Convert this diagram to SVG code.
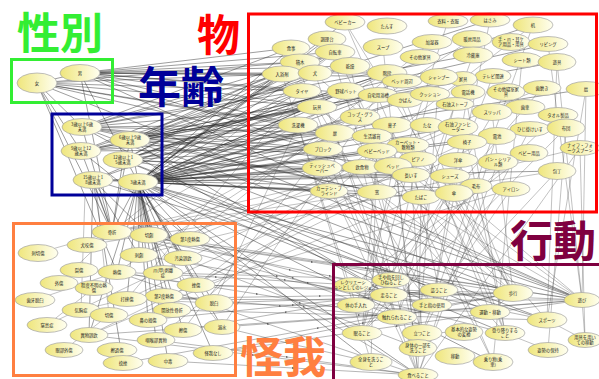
<svg xmlns="http://www.w3.org/2000/svg" width="599" height="379" viewBox="0 0 599 379">
<defs>
<linearGradient id="yg" x1="0" y1="0" x2="1" y2="0">
<stop offset="0" stop-color="#efe67c"/>
<stop offset="1" stop-color="#fffff0"/>
</linearGradient>
<marker id="ar" viewBox="0 0 6 6" refX="3" refY="3" markerWidth="4" markerHeight="4" orient="auto">
<path d="M0 0L6 3L0 6z" fill="#666"/>
</marker>
<style>
.n ellipse{fill:url(#yg);stroke:#a4a4a4;stroke-width:.7}
.n text{font-family:"Noto Sans CJK JP","Noto Sans",sans-serif;font-size:4.3px;fill:#222;text-anchor:middle}
#connectors path{fill:none}
.e path{stroke:#2a2a2a;stroke-width:.65;stroke-opacity:.7}
.f path{stroke:#555;stroke-width:.6;stroke-opacity:.6}
.m path{stroke:#444;stroke-width:.6;stroke-opacity:.65;marker-mid:url(#ar)}
.big{font-family:"Noto Sans CJK JP","Noto Sans CJK SC",sans-serif;font-weight:700;font-size:43px}
.box{fill:none;stroke-width:3}
</style>
</defs>
<rect width="599" height="379" fill="#fff"/>
<g id="connectors">
<g class="e">
<path d="M80 73L282 74"/><path d="M80 73L302 91"/><path d="M80 73L298 125"/><path d="M80 73L439 77"/><path d="M80 73L378 95"/><path d="M80 73L387 73"/><path d="M80 73L317 107"/><path d="M80 73L300 62"/><path d="M80 73L112 232"/><path d="M80 73L138 182"/><path d="M80 73L582 300"/><path d="M80 73L323 149"/><path d="M80 73L335 52"/><path d="M80 73L291 48"/><path d="M80 73L350 66"/>
<path d="M37 83L82 127"/><path d="M37 83L81 151"/><path d="M37 83L282 74"/><path d="M37 83L302 91"/><path d="M37 83L298 125"/><path d="M37 83L323 149"/><path d="M37 83L112 232"/><path d="M37 83L117 272"/><path d="M37 83L335 133"/><path d="M37 83L582 300"/><path d="M37 83L80 73"/><path d="M37 83L300 62"/><path d="M37 83L317 107"/>
<path d="M138 182L345 22"/><path d="M138 182L327 39"/><path d="M138 182L291 48"/><path d="M138 182L335 52"/><path d="M138 182L300 62"/><path d="M138 182L282 74"/><path d="M138 182L302 91"/><path d="M138 182L317 107"/><path d="M138 182L298 125"/><path d="M138 182L335 133"/><path d="M138 182L323 149"/><path d="M138 182L322 168"/><path d="M138 182L362 167"/><path d="M138 182L377 151"/><path d="M138 182L393 166"/><path d="M138 182L329 191"/><path d="M138 182L377 192"/><path d="M138 182L421 197"/><path d="M138 182L467 142"/><path d="M138 182L497 136"/><path d="M138 182L455 104"/><path d="M138 182L117 272"/><path d="M138 182L112 232"/><path d="M138 182L149 235"/><path d="M138 182L89 335"/><path d="M138 182L190 239"/><path d="M138 182L127 299"/><path d="M138 182L513 293"/><path d="M138 182L582 300"/><path d="M138 182L439 290"/><path d="M138 182L505 333"/><path d="M138 182L493 362"/><path d="M138 182L418 375"/><path d="M138 182L371 362"/><path d="M138 182L183 258"/><path d="M138 182L196 285"/>
<path d="M138 182L139 255"/><path d="M138 182L164 296"/><path d="M138 182L183 330"/><path d="M138 182L222 327"/><path d="M138 182L168 361"/><path d="M138 182L156 340"/><path d="M138 182L214 303"/><path d="M138 182L172 310"/><path d="M138 182L148 320"/><path d="M138 182L213 353"/><path d="M138 182L163 273"/>
<path d="M138 182L360 117"/><path d="M138 182L392 125"/><path d="M138 182L372 136"/><path d="M138 182L408 145"/><path d="M138 182L418 159"/><path d="M138 182L411 175"/><path d="M138 182L450 176"/><path d="M138 182L458 127"/><path d="M138 182L430 94"/><path d="M138 182L402 81"/><path d="M138 182L387 73"/><path d="M138 182L378 95"/><path d="M138 182L346 91"/><path d="M138 182L405 100"/>
<path d="M123 160L335 52"/><path d="M123 160L346 91"/><path d="M123 160L387 73"/><path d="M123 160L533 25"/><path d="M123 160L547 320"/><path d="M123 160L112 232"/><path d="M123 160L323 149"/><path d="M123 160L450 176"/><path d="M123 160L490 312"/><path d="M123 160L586 89"/><path d="M123 160L282 74"/><path d="M123 160L317 107"/><path d="M123 160L335 133"/><path d="M123 160L322 168"/><path d="M123 160L329 191"/>
<path d="M130 140L335 52"/><path d="M130 140L557 62"/><path d="M130 140L323 149"/><path d="M130 140L335 133"/><path d="M130 140L377 192"/><path d="M130 140L112 232"/><path d="M130 140L149 235"/><path d="M130 140L582 300"/><path d="M130 140L389 295"/><path d="M130 140L548 44"/><path d="M130 140L350 66"/><path d="M130 140L315 73"/><path d="M130 140L300 62"/><path d="M130 140L302 91"/><path d="M130 140L317 107"/><path d="M130 140L298 125"/><path d="M130 140L378 95"/>
<path d="M82 127L282 74"/><path d="M82 127L317 107"/><path d="M82 127L291 48"/><path d="M82 127L393 166"/><path d="M82 127L335 133"/><path d="M82 127L513 293"/><path d="M82 127L389 295"/><path d="M82 127L112 232"/><path d="M82 127L473 55"/><path d="M82 127L335 52"/><path d="M82 127L302 91"/><path d="M82 127L298 125"/><path d="M82 127L323 149"/><path d="M82 127L322 168"/><path d="M82 127L377 192"/>
<path d="M81 151L335 52"/><path d="M81 151L346 91"/><path d="M81 151L490 20"/><path d="M81 151L112 232"/><path d="M81 151L190 239"/><path d="M81 151L493 76"/><path d="M81 151L335 133"/><path d="M81 151L323 149"/><path d="M81 151L317 107"/><path d="M81 151L298 125"/>
<path d="M93 180L112 232"/><path d="M93 180L149 235"/><path d="M93 180L89 335"/><path d="M93 180L557 171"/><path d="M93 180L511 189"/><path d="M93 180L547 320"/><path d="M93 180L123 363"/><path d="M93 180L139 255"/><path d="M93 180L346 91"/><path d="M93 180L302 91"/><path d="M93 180L329 191"/>
</g>
<g class="f">
<path d="M377 192L112 232"/><path d="M387 73L112 232"/><path d="M302 91L127 299"/><path d="M557 171L149 235"/><path d="M421 197L89 335"/><path d="M362 167L156 340"/><path d="M458 127L190 239"/><path d="M511 189L164 296"/><path d="M533 25L196 285"/><path d="M335 133L149 235"/><path d="M378 95L222 327"/><path d="M329 191L47 325"/><path d="M393 166L112 232"/><path d="M467 142L127 299"/><path d="M580 148L139 255"/><path d="M497 136L89 335"/><path d="M542 88L139 255"/><path d="M335 52L112 232"/><path d="M472 39L117 272"/><path d="M432 42L190 239"/><path d="M418 159L196 285"/><path d="M411 175L112 232"/><path d="M323 149L183 330"/><path d="M298 125L214 303"/>
<path d="M345 22L493 362"/><path d="M335 52L493 362"/><path d="M387 73L505 333"/><path d="M467 142L505 333"/><path d="M393 166L362 333"/><path d="M377 151L362 333"/><path d="M411 175L422 333"/><path d="M317 107L582 300"/><path d="M300 62L582 300"/><path d="M323 149L582 300"/><path d="M557 62L582 300"/><path d="M346 91L547 320"/><path d="M450 176L513 293"/><path d="M492 112L513 293"/><path d="M557 171L432 305"/><path d="M490 20L432 305"/><path d="M580 148L418 375"/><path d="M362 167L418 375"/><path d="M392 125L418 375"/><path d="M498 162L418 375"/><path d="M378 95L371 362"/><path d="M282 74L371 362"/><path d="M439 77L418 348"/><path d="M542 88L356 305"/><path d="M335 133L391 280"/><path d="M586 89L582 300"/><path d="M558 115L356 305"/><path d="M530 129L422 333"/><path d="M566 128L362 333"/><path d="M476 186L362 333"/><path d="M454 193L513 293"/><path d="M458 160L513 293"/><path d="M493 76L397 317"/><path d="M430 94L362 333"/><path d="M473 55L391 280"/><path d="M448 21L356 305"/><path d="M533 25L422 333"/><path d="M548 44L582 300"/><path d="M522 60L493 362"/><path d="M377 192L505 333"/><path d="M427 125L505 333"/><path d="M329 191L391 280"/><path d="M322 168L432 305"/><path d="M497 136L418 375"/><path d="M421 197L418 375"/><path d="M511 189L432 305"/><path d="M455 104L397 317"/><path d="M529 153L353 285"/><path d="M463 79L505 333"/><path d="M506 92L362 333"/><path d="M350 66L418 348"/><path d="M315 73L397 317"/><path d="M405 100L490 312"/><path d="M468 92L432 305"/><path d="M383 47L418 375"/><path d="M291 48L418 375"/><path d="M327 39L422 333"/>
<path d="M323 149L397 317"/><path d="M317 107L432 305"/><path d="M322 168L418 375"/><path d="M377 192L513 293"/><path d="M329 191L582 300"/><path d="M302 91L513 293"/><path d="M298 125L356 305"/><path d="M345 22L513 293"/><path d="M408 145L439 290"/><path d="M418 159L391 280"/><path d="M557 62L547 320"/><path d="M586 89L547 320"/><path d="M566 128L548 350"/><path d="M580 148L585 340"/>
<path d="M513 293L490 312"/><path d="M582 300L585 340"/><path d="M547 320L585 340"/><path d="M464 332L422 333"/><path d="M455 356L493 362"/><path d="M389 295L439 290"/><path d="M353 285L391 280"/><path d="M356 305L432 305"/><path d="M548 350L505 333"/>
<path d="M38 253L112 232"/><path d="M59 283L112 232"/><path d="M35 300L117 272"/><path d="M47 325L94 288"/><path d="M64 350L109 315"/><path d="M87 245L149 235"/><path d="M81 310L127 299"/><path d="M85 195L81 310"/><path d="M97 195L109 315"/><path d="M112 232L190 239"/><path d="M117 272L196 285"/><path d="M127 299L214 303"/><path d="M149 235L222 327"/>
</g>
<g class="m">
<path d="M112 232L308 283L505 333"/><path d="M149 235L290 270L432 305"/><path d="M222 327L296 345L371 362"/><path d="M190 239L293 278L397 317"/><path d="M89 335L253 355L418 375"/><path d="M127 299L320 296L513 293"/><path d="M196 285L389 292L582 300"/><path d="M214 303L352 307L490 312"/><path d="M183 330L286 312L389 295"/><path d="M213 353L397 326L582 300"/><path d="M117 272L257 294L397 317"/><path d="M139 255L285 280L432 305"/><path d="M148 320L293 305L439 290"/><path d="M168 361L293 368L418 375"/><path d="M156 340L287 357L418 375"/><path d="M172 310L359 315L547 320"/><path d="M164 296L280 306L397 317"/><path d="M123 363L318 328L513 293"/><path d="M163 273L277 276L391 280"/><path d="M79 270L216 277L353 285"/><path d="M183 258L300 303L418 348"/>
<path d="M112 232L312 262L513 293"/><path d="M112 232L347 266L582 300"/><path d="M112 232L330 276L547 320"/><path d="M149 235L366 268L582 300"/><path d="M117 272L268 324L418 375"/><path d="M127 299L355 300L582 300"/><path d="M190 239L304 307L418 375"/><path d="M222 327L402 314L582 300"/><path d="M214 303L364 298L513 293"/><path d="M196 285L355 289L513 293"/><path d="M89 335L336 318L582 300"/><path d="M213 353L363 323L513 293"/>
</g>
</g>
<g id="nodes" class="n">
<g id="sex-female"><ellipse cx="37" cy="83" rx="20" ry="10"/><text x="37" y="84.5">女</text></g>
<g id="sex-male"><ellipse cx="80" cy="73" rx="20" ry="8.5"/><text x="80" y="74.5">男</text></g>
<g id="age-3-6"><ellipse cx="82" cy="127" rx="20" ry="8.5"/><text x="82" y="126.2">3歳以上6歳<tspan x="82" dy="5">未満</tspan></text></g>
<g id="age-6-9"><ellipse cx="130" cy="140" rx="20" ry="8.5"/><text x="130" y="139.2">6歳以上9歳<tspan x="130" dy="5">未満</tspan></text></g>
<g id="age-9-12"><ellipse cx="81" cy="151" rx="20" ry="8.5"/><text x="81" y="150.2">9歳以上12<tspan x="81" dy="5">歳未満</tspan></text></g>
<g id="age-12-15"><ellipse cx="123" cy="160" rx="20" ry="8.5"/><text x="123" y="159.2">12歳以上1<tspan x="123" dy="5">5歳未満</tspan></text></g>
<g id="age-15-18"><ellipse cx="93" cy="180" rx="20" ry="8.5"/><text x="93" y="179.2">15歳以上1<tspan x="93" dy="5">8歳未満</tspan></text></g>
<g id="age-0-3"><ellipse cx="138" cy="182" rx="20" ry="8.5"/><text x="138" y="183.5">3歳未満</text></g>

<g id="o-babycar"><ellipse cx="345" cy="22" rx="20" ry="8"/><text x="345" y="23.5">ベビーカー</text></g>
<g id="o-tansu"><ellipse cx="387" cy="26" rx="20" ry="8"/><text x="387" y="27.5">たんす</text></g>
<g id="o-chouridai"><ellipse cx="327" cy="39" rx="19" ry="8"/><text x="327" y="40.5">調理台</text></g>
<g id="o-shokuji"><ellipse cx="291" cy="48" rx="19" ry="8"/><text x="291" y="49.5">食事</text></g>
<g id="o-soup"><ellipse cx="383" cy="47" rx="20" ry="8.5"/><text x="383" y="48.5">スープ</text></g>
<g id="o-jitensha"><ellipse cx="335" cy="52" rx="20" ry="8"/><text x="335" y="53.5">自転車</text></g>
<g id="o-tsumiki"><ellipse cx="300" cy="62" rx="20" ry="8"/><text x="300" y="63.5">積木</text></g>
<g id="o-kanso"><ellipse cx="350" cy="66" rx="20" ry="8.5"/><text x="350" y="67.5">乾燥</text></g>
<g id="o-nyuyokuzai"><ellipse cx="282" cy="74" rx="20" ry="8"/><text x="282" y="75.5">入浴剤</text></g>
<g id="o-inu"><ellipse cx="315" cy="73" rx="17" ry="8"/><text x="315" y="74.5">犬</text></g>
<g id="o-kaidan"><ellipse cx="387" cy="73" rx="20" ry="8.5"/><text x="387" y="74.5">階段</text></g>
<g id="o-bedshuhen"><ellipse cx="402" cy="81" rx="20" ry="7"/><text x="402" y="82.5">ベッド周辺</text></g>
<g id="o-taiya"><ellipse cx="302" cy="91" rx="19" ry="7.5"/><text x="302" y="92.5">タイヤ</text></g>
<g id="o-bat"><ellipse cx="346" cy="91" rx="19" ry="8.5"/><text x="346" y="92.5">野球バット</text></g>
<g id="o-yokuso"><ellipse cx="378" cy="95" rx="20" ry="7.5"/><text x="378" y="96.5">自宅用浴槽</text></g>
<g id="o-kaban"><ellipse cx="405" cy="100" rx="18" ry="7.5"/><text x="405" y="101.5">かばん</text></g>
<g id="o-gangu"><ellipse cx="317" cy="107" rx="20" ry="7.5"/><text x="317" y="108.5">玩具</text></g>
<g id="o-cup"><ellipse cx="360" cy="117" rx="20" ry="8.5"/><text x="360" y="116.2">コップ・グラ<tspan x="360" dy="5">ス</tspan></text></g>
<g id="o-sentakuki"><ellipse cx="298" cy="125" rx="20" ry="8"/><text x="298" y="126.5">洗濯機</text></g>
<g id="o-kashi"><ellipse cx="392" cy="125" rx="20" ry="8"/><text x="392" y="126.5">菓子</text></g>
<g id="o-tana"><ellipse cx="427" cy="125" rx="17" ry="7.5"/><text x="427" y="126.5">たな</text></g>
<g id="o-tobira"><ellipse cx="335" cy="133" rx="20" ry="8.5"/><text x="335" y="134.5">扉</text></g>
<g id="o-zakka"><ellipse cx="372" cy="136" rx="20" ry="7.5"/><text x="372" y="137.5">生活雑貨</text></g>
<g id="o-carpet"><ellipse cx="408" cy="145" rx="21" ry="8"/><text x="408" y="144.2">カーペット・<tspan x="408" dy="5">敷物類</tspan></text></g>
<g id="o-block"><ellipse cx="323" cy="149" rx="20" ry="7.5"/><text x="323" y="150.5">ブロック</text></g>
<g id="o-babybed"><ellipse cx="377" cy="151" rx="20" ry="8"/><text x="377" y="152.5">ベビーベッド</text></g>
<g id="o-piano"><ellipse cx="418" cy="159" rx="19" ry="7.5"/><text x="418" y="160.5">ピアノ</text></g>
<g id="o-inshoku"><ellipse cx="362" cy="167" rx="20" ry="7.5"/><text x="362" y="168.5">飲食物</text></g>
<g id="o-bed"><ellipse cx="393" cy="166" rx="19" ry="8.5"/><text x="393" y="167.5">ベッド</text></g>
<g id="o-tissue"><ellipse cx="322" cy="168" rx="20" ry="8.5"/><text x="322" y="167.2">ティッシュペ<tspan x="322" dy="5">ーパー</tspan></text></g>
<g id="o-nagaisu"><ellipse cx="411" cy="175" rx="19" ry="7.5"/><text x="411" y="176.5">長いす</text></g>
<g id="o-curtain"><ellipse cx="329" cy="191" rx="19" ry="7.5"/><text x="329" y="190.2">カーテン・ブ<tspan x="329" dy="5">ラインド</tspan></text></g>
<g id="o-mado"><ellipse cx="377" cy="192" rx="20" ry="7.5"/><text x="377" y="193.5">窓</text></g>
<g id="o-tabako"><ellipse cx="421" cy="197" rx="19" ry="7.5"/><text x="421" y="198.5">たばこ</text></g>
<g id="o-iryo"><ellipse cx="448" cy="21" rx="20" ry="7"/><text x="448" y="22.5">衣料・衣服</text></g>
<g id="o-hasami"><ellipse cx="490" cy="20" rx="20" ry="7"/><text x="490" y="21.5">はさみ</text></g>
<g id="o-tsukue"><ellipse cx="533" cy="25" rx="20" ry="8"/><text x="533" y="26.5">机</text></g>
<g id="o-kashitsuki"><ellipse cx="432" cy="42" rx="20" ry="7.5"/><text x="432" y="43.5">加湿器</text></g>
<g id="o-danbo"><ellipse cx="472" cy="39" rx="20" ry="8.5"/><text x="472" y="40.5">暖房用品</text></g>
<g id="o-nail"><ellipse cx="511" cy="42" rx="19" ry="8.5"/><text x="511" y="41.2">手・爪・耳ケ<tspan x="511" dy="5">ア用品・用具</tspan></text></g>
<g id="o-living"><ellipse cx="548" cy="44" rx="20" ry="7.5"/><text x="548" y="45.5">リビング</text></g>
<g id="o-kagu"><ellipse cx="420" cy="57" rx="20" ry="7.5"/><text x="420" y="58.5">その他家具</text></g>
<g id="o-reizoko"><ellipse cx="473" cy="55" rx="20" ry="8"/><text x="473" y="56.5">冷蔵庫</text></g>
<g id="o-sheet"><ellipse cx="522" cy="60" rx="20" ry="7.5"/><text x="522" y="61.5">シート類</text></g>
<g id="o-yugu"><ellipse cx="557" cy="62" rx="19" ry="8.5"/><text x="557" y="63.5">遊具</text></g>
<g id="o-tv"><ellipse cx="493" cy="76" rx="18" ry="7.5"/><text x="493" y="77.5">テレビ関連</text></g>
<g id="o-kagu2"><ellipse cx="463" cy="79" rx="14" ry="7.5"/><text x="463" y="80.5">家具</text></g>
<g id="o-shampoo"><ellipse cx="439" cy="77" rx="19" ry="8.5"/><text x="439" y="78.5">シャンプー</text></g>
<g id="o-hamigaki"><ellipse cx="542" cy="88" rx="19" ry="7.5"/><text x="542" y="89.5">歯磨き</text></g>
<g id="o-ogi"><ellipse cx="586" cy="89" rx="20" ry="7.5"/><text x="586" y="90.5">扇</text></g>
<g id="o-cushion"><ellipse cx="430" cy="94" rx="20" ry="7.5"/><text x="430" y="95.5">クッション</text></g>
<g id="o-denwa"><ellipse cx="468" cy="92" rx="17" ry="7.5"/><text x="468" y="93.5">電話機</text></g>
<g id="o-shinshitsu"><ellipse cx="506" cy="92" rx="19" ry="8.5"/><text x="506" y="91.2">その他寝室家<tspan x="506" dy="5">具</tspan></text></g>
<g id="o-stove"><ellipse cx="455" cy="104" rx="19" ry="6.5"/><text x="455" y="105.5">石油ストーブ</text></g>
<g id="o-haguruma"><ellipse cx="525" cy="107" rx="20" ry="7.5"/><text x="525" y="108.5">歯車</text></g>
<g id="o-slipper"><ellipse cx="492" cy="112" rx="20" ry="8.5"/><text x="492" y="113.5">スリッパ</text></g>
<g id="o-towel"><ellipse cx="558" cy="115" rx="20" ry="7.5"/><text x="558" y="116.5">タオル製品</text></g>
<g id="o-fanheater"><ellipse cx="458" cy="127" rx="20" ry="9"/><text x="458" y="126.2">石油ファンヒ<tspan x="458" dy="5">ーター</tspan></text></g>
<g id="o-hijikake"><ellipse cx="530" cy="129" rx="20" ry="7.5"/><text x="530" y="130.5">ひじ掛けいす</text></g>
<g id="o-futon"><ellipse cx="566" cy="128" rx="19" ry="9"/><text x="566" y="129.5">布団</text></g>
<g id="o-denchi"><ellipse cx="497" cy="136" rx="19" ry="8.5"/><text x="497" y="137.5">電池</text></g>
<g id="o-isu"><ellipse cx="467" cy="142" rx="20" ry="7.5"/><text x="467" y="143.5">椅子</text></g>
<g id="o-knife"><ellipse cx="580" cy="148" rx="20" ry="7.5"/><text x="580" y="147.2">ナイフ・フォ<tspan x="580" dy="5">ークスプーン</tspan></text></g>
<g id="o-babygoods"><ellipse cx="529" cy="153" rx="19" ry="8.5"/><text x="529" y="154.5">ベビー用品</text></g>
<g id="o-yogasa"><ellipse cx="458" cy="160" rx="20" ry="7.5"/><text x="458" y="161.5">洋傘</text></g>
<g id="o-pan"><ellipse cx="498" cy="162" rx="20" ry="8.5"/><text x="498" y="161.2">パン・シリア<tspan x="498" dy="5">ル類</tspan></text></g>
<g id="o-hocho"><ellipse cx="557" cy="171" rx="19" ry="8.5"/><text x="557" y="172.5">包丁</text></g>
<g id="o-shoes"><ellipse cx="450" cy="176" rx="20" ry="7.5"/><text x="450" y="177.5">シューズ</text></g>
<g id="o-moufu"><ellipse cx="476" cy="186" rx="16" ry="7.5"/><text x="476" y="187.5">毛布</text></g>
<g id="o-iron"><ellipse cx="511" cy="189" rx="19" ry="7.5"/><text x="511" y="190.5">アイロン</text></g>
<g id="o-kasa"><ellipse cx="454" cy="193" rx="19" ry="8.5"/><text x="454" y="194.5">傘</text></g>

<g id="i-kossetsu"><ellipse cx="112" cy="232" rx="20" ry="8"/><text x="112" y="233.5">骨折</text></g>
<g id="i-sesso"><ellipse cx="149" cy="235" rx="19" ry="8"/><text x="149" y="236.5">切創</text></g>
<g id="i-netsu1"><ellipse cx="190" cy="239" rx="20" ry="7.5"/><text x="190" y="240.5">第1度熱傷</text></g>
<g id="i-kanmo"><ellipse cx="87" cy="245" rx="20" ry="7.5"/><text x="87" y="246.5">犬咬傷</text></g>
<g id="i-shisetsu"><ellipse cx="38" cy="253" rx="20" ry="8.5"/><text x="38" y="254.5">刺切傷</text></g>
<g id="i-shiso"><ellipse cx="139" cy="255" rx="19" ry="7.5"/><text x="139" y="256.5">刺創</text></g>
<g id="i-osen"><ellipse cx="183" cy="258" rx="19" ry="7.5"/><text x="183" y="259.5">汚染誤飲</text></g>
<g id="i-ressho"><ellipse cx="79" cy="270" rx="19" ry="7.5"/><text x="79" y="271.5">裂傷</text></g>
<g id="i-nessho"><ellipse cx="117" cy="272" rx="19" ry="7.5"/><text x="117" y="273.5">熱傷</text></g>
<g id="i-tsume"><ellipse cx="163" cy="273" rx="20" ry="7.5"/><text x="163" y="272.2">爪(甲)剥離<tspan x="163" dy="5">症</tspan></text></g>
<g id="i-gaisho"><ellipse cx="59" cy="283" rx="19" ry="7.5"/><text x="59" y="284.5">外傷</text></g>
<g id="i-zasho"><ellipse cx="196" cy="285" rx="19" ry="7.5"/><text x="196" y="286.5">挫傷</text></g>
<g id="i-teido"><ellipse cx="94" cy="288" rx="19" ry="7.5"/><text x="94" y="287.2">程度不明の熱<tspan x="94" dy="5">傷</tspan></text></g>
<g id="i-netsu2"><ellipse cx="164" cy="296" rx="19" ry="7.5"/><text x="164" y="297.5">第2度熱傷</text></g>
<g id="i-dabokusho"><ellipse cx="127" cy="299" rx="20" ry="7.5"/><text x="127" y="300.5">打撲傷</text></g>
<g id="i-shiga"><ellipse cx="35" cy="300" rx="20" ry="7.5"/><text x="35" y="301.5">歯牙脱臼</text></g>
<g id="i-dakkyu"><ellipse cx="214" cy="303" rx="19" ry="8.5"/><text x="214" y="304.5">脱臼</text></g>
<g id="i-kikyo"><ellipse cx="81" cy="310" rx="19" ry="7.5"/><text x="81" y="311.5">気胸症</text></g>
<g id="i-kaiho"><ellipse cx="172" cy="310" rx="19" ry="7.5"/><text x="172" y="311.5">開放性骨折</text></g>
<g id="i-sessho"><ellipse cx="109" cy="315" rx="19" ry="7.5"/><text x="109" y="316.5">切傷</text></g>
<g id="i-hana"><ellipse cx="148" cy="320" rx="19" ry="7.5"/><text x="148" y="321.5">鼻の損傷</text></g>
<g id="i-chissoku"><ellipse cx="47" cy="325" rx="20" ry="7.5"/><text x="47" y="326.5">窒息症</text></g>
<g id="i-dekisui"><ellipse cx="222" cy="327" rx="18" ry="7.5"/><text x="222" y="328.5">溺水</text></g>
<g id="i-sassho"><ellipse cx="183" cy="330" rx="19" ry="7.5"/><text x="183" y="331.5">擦傷</text></g>
<g id="i-ibutsu"><ellipse cx="89" cy="335" rx="19" ry="7.5"/><text x="89" y="336.5">異物誤飲</text></g>
<g id="i-inko"><ellipse cx="156" cy="340" rx="19" ry="7.5"/><text x="156" y="341.5">咽喉部異物</text></g>
<g id="i-ganbu"><ellipse cx="64" cy="350" rx="19" ry="7.5"/><text x="64" y="351.5">眼部外傷</text></g>
<g id="i-sakka"><ellipse cx="117" cy="350" rx="20" ry="7.5"/><text x="117" y="351.5">擦過傷</text></g>
<g id="i-nashi"><ellipse cx="213" cy="353" rx="20" ry="7.5"/><text x="213" y="354.5">怪我なし</text></g>
<g id="i-chudoku"><ellipse cx="168" cy="361" rx="20" ry="7.5"/><text x="168" y="362.5">中毒</text></g>
<g id="i-nenza"><ellipse cx="123" cy="363" rx="20" ry="7.5"/><text x="123" y="364.5">捻挫</text></g>

<g id="b-recreation"><ellipse cx="353" cy="285" rx="19" ry="7.5"/><text x="353" y="284.2">レクリエーシ<tspan x="353" dy="5">ョンとしてのレジャ</tspan></text></g>
<g id="b-hineru"><ellipse cx="391" cy="280" rx="19" ry="7.5"/><text x="391" y="279.2">手や指を回し<tspan x="391" dy="5">ひねること</tspan></text></g>
<g id="b-hashiru"><ellipse cx="389" cy="295" rx="19" ry="7.5"/><text x="389" y="296.5">走ること</text></g>
<g id="b-hau"><ellipse cx="439" cy="290" rx="19" ry="7"/><text x="439" y="291.5">這うこと</text></g>
<g id="b-hoko"><ellipse cx="513" cy="293" rx="20" ry="8.5"/><text x="513" y="294.5">歩行</text></g>
<g id="b-asobi"><ellipse cx="582" cy="300" rx="18" ry="7.5"/><text x="582" y="301.5">遊び</text></g>
<g id="b-teire"><ellipse cx="356" cy="305" rx="19" ry="7.5"/><text x="356" y="306.5">体の手入れ</text></g>
<g id="b-yubi"><ellipse cx="432" cy="305" rx="20" ry="7"/><text x="432" y="306.5">手と指の使用</text></g>
<g id="b-undo"><ellipse cx="490" cy="312" rx="20" ry="7.5"/><text x="490" y="313.5">運動・移動</text></g>
<g id="b-sports"><ellipse cx="547" cy="320" rx="20" ry="8"/><text x="547" y="321.5">スポーツ</text></g>
<g id="b-fureru"><ellipse cx="397" cy="317" rx="20" ry="7.5"/><text x="397" y="318.5">触れられること</text></g>
<g id="b-nemuru"><ellipse cx="362" cy="333" rx="20" ry="7.5"/><text x="362" y="334.5">眠ること</text></g>
<g id="b-tatsu"><ellipse cx="422" cy="333" rx="20" ry="8.5"/><text x="422" y="334.5">立つこと</text></g>
<g id="b-shisei"><ellipse cx="464" cy="332" rx="19" ry="8.5"/><text x="464" y="331.2">基本的な姿勢<tspan x="464" dy="5">の変換</tspan></text></g>
<g id="b-nobori"><ellipse cx="505" cy="333" rx="20" ry="7.5"/><text x="505" y="332.2">登り降りする<tspan x="505" dy="5">こと</tspan></text></g>
<g id="b-yogu"><ellipse cx="585" cy="340" rx="17" ry="7.5"/><text x="585" y="339.2">用具を用い<tspan x="585" dy="5">ての移動</tspan></text></g>
<g id="b-ichibu"><ellipse cx="418" cy="348" rx="19" ry="8.5"/><text x="418" y="347.2">身体の一部を<tspan x="418" dy="5">洗うこと</tspan></text></g>
<g id="b-hoji"><ellipse cx="548" cy="350" rx="20" ry="7.5"/><text x="548" y="351.5">姿勢の保持</text></g>
<g id="b-ido"><ellipse cx="455" cy="356" rx="20" ry="8.5"/><text x="455" y="357.5">移動</text></g>
<g id="b-zenshin"><ellipse cx="371" cy="362" rx="21" ry="8.5"/><text x="371" y="361.2">全身を洗うこ<tspan x="371" dy="5">と</tspan></text></g>
<g id="b-norimono"><ellipse cx="493" cy="362" rx="20" ry="8.5"/><text x="493" y="361.2">乗り物(乗<tspan x="493" dy="5">車)</tspan></text></g>
<g id="b-taberu"><ellipse cx="418" cy="375" rx="20" ry="7"/><text x="418" y="376.5">食べること</text></g>
</g>
<g id="groups">
<rect class="box" x="11.5" y="59.5" width="101" height="43" stroke="#33ee33"/>
<rect class="box" x="52" y="114" width="110" height="81" stroke="#000099"/>
<rect class="box" x="248.5" y="14" width="348" height="198" stroke="#ff0000"/>
<rect class="box" x="333.5" y="264.5" width="300" height="200" stroke="#7f0040"/>
<rect class="box" x="13.5" y="223.5" width="222" height="152" stroke="#ff7f40"/>
<text class="big" x="17" y="49" fill="#33ee33">性別</text>
<text class="big" x="138" y="103" fill="#000099">年齢</text>
<text class="big" x="197" y="51" fill="#ff0000">物</text>
<text class="big" x="510" y="257" fill="#7f0040">行動</text>
<text class="big" x="240" y="373" fill="#ff7f40">怪我</text>
</g>
</svg>
